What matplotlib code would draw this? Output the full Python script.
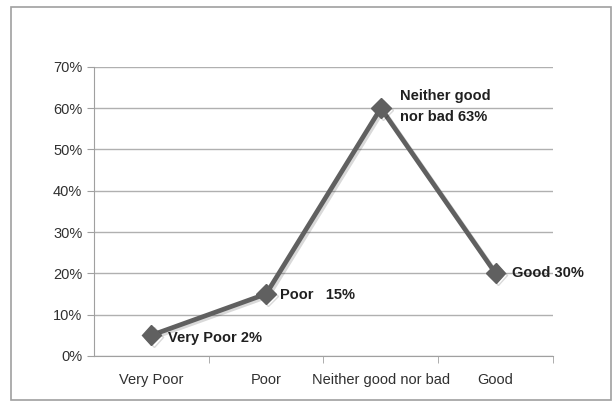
import matplotlib.pyplot as plt
import matplotlib.patches as mpatches
import matplotlib.patheffects as pe

categories = ['Very Poor', 'Poor', 'Neither good nor bad', 'Good']
values = [5, 15, 60, 20]
point_labels = ['Very Poor 2%', 'Poor   15%', 'Neither good\nnor bad 63%', 'Good 30%']
y_ticks = [0, 10, 20, 30, 40, 50, 60, 70]

plt.rcParams['font.family'] = ['Liberation Sans', 'DejaVu Sans']

fig = plt.figure(figsize=(6.15, 4.03), dpi=100)
ax = fig.add_axes([0.153, 0.117, 0.746, 0.717])

# outer chart border
fig.patches.append(mpatches.Rectangle((0.018, 0.008), 0.975, 0.975, transform=fig.transFigure,
                                      fill=False, edgecolor='#a0a0a0', linewidth=1.2))

x = list(range(len(categories)))
ax.plot(x, values, color='#606060', linewidth=3.4, marker='D', markersize=10,
        solid_joinstyle='miter',
        path_effects=[pe.SimpleLineShadow(offset=(1.5, -1.5), alpha=0.15), pe.Normal()])

ax.set_xlim(-0.5, len(categories) - 0.5)
ax.set_ylim(0, 70)
ax.set_yticks(y_ticks)
ax.set_yticklabels([f'{v}%' for v in y_ticks])
ax.set_xticks(x)
ax.set_xticklabels(categories)
ax.set_xticks([i + 0.5 for i in x], minor=True)
ax.tick_params(axis='x', which='major', length=0, labelsize=10.5, colors='#303030', pad=12)
ax.tick_params(axis='x', which='minor', length=5, color='#a0a0a0')
ax.tick_params(axis='y', length=5, color='#a0a0a0', labelsize=10.5, labelcolor='#303030')
ax.grid(axis='y', color='#b0b0b0', linewidth=1)
ax.set_axisbelow(True)
for side in ['top', 'right']:
    ax.spines[side].set_visible(False)
ax.spines['left'].set_color('#a0a0a0')
ax.spines['bottom'].set_color('#a0a0a0')

offsets = [(12, -2), (10, -1), (14, 14), (12, 0)]
aligns = ['center', 'center', 'top', 'center']
for xi, v, lab, off, va in zip(x, values, point_labels, offsets, aligns):
    ax.annotate(lab, (xi, v), xytext=off, textcoords='offset points', ha='left', va=va,
                fontsize=10.5, fontweight='bold', color='#202020', linespacing=1.7)

fig.savefig('out.png', dpi=100)
